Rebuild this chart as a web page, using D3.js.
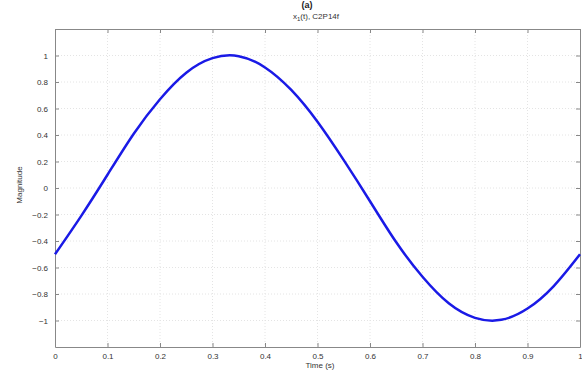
<!DOCTYPE html>
<html>
<head>
<meta charset="utf-8">
<script src="https://cdn.jsdelivr.net/npm/d3@7"></script>
<style>
  body { margin: 0; background: #fff; }
  text { font-family: "Liberation Sans", Arial, sans-serif; }
</style>
</head>
<body>
<svg width="582" height="370"></svg>
<script>
// Values
const times = [0, 0.05, 0.1, 0.15, 0.2, 0.25, 0.3, 0.35, 0.4, 0.45, 0.5,
               0.55, 0.6, 0.65, 0.7, 0.75, 0.8, 0.85, 0.9, 0.95, 1];
const magnitude = [-0.5, -0.21, 0.1, 0.41, 0.67, 0.87, 0.98, 0.995, 0.91, 0.74, 0.5,
                   0.21, -0.1, -0.41, -0.67, -0.87, -0.98, -0.995, -0.91, -0.74, -0.5];
const xTicks = [0, 0.1, 0.2, 0.3, 0.4, 0.5, 0.6, 0.7, 0.8, 0.9, 1];
const yTicks = [-1, -0.8, -0.6, -0.4, -0.2, 0, 0.2, 0.4, 0.6, 0.8, 1];

const svg = d3.select("svg");
const mLeft = 55, mRight = 580, mTop = 29, mBottom = 347;

const x = d3.scaleLinear().domain([0, 1]).range([mLeft, mRight]);
const y = d3.scaleLinear().domain([-1.2, 1.2]).range([mBottom, mTop]);

const fmt = d => String(d).replace("-", "\u2212");

// grid
svg.append("g").selectAll("line").data(xTicks.slice(1, -1)).enter().append("line")
  .attr("x1", d => x(d)).attr("x2", d => x(d)).attr("y1", mTop).attr("y2", mBottom)
  .attr("stroke", "#e4e4e4").attr("stroke-dasharray", "1,2");
svg.append("g").selectAll("line").data(yTicks).enter().append("line")
  .attr("y1", d => y(d)).attr("y2", d => y(d)).attr("x1", mLeft).attr("x2", mRight)
  .attr("stroke", "#e4e4e4").attr("stroke-dasharray", "1,2");

// axes with inward ticks
const ax = svg.append("g").attr("transform", `translate(0,${mBottom})`)
  .call(d3.axisBottom(x).tickValues(xTicks).tickSizeInner(-4).tickSizeOuter(0).tickPadding(6).tickFormat(fmt));
const axTop = svg.append("g").attr("transform", `translate(0,${mTop})`)
  .call(d3.axisTop(x).tickValues(xTicks).tickSizeInner(-4).tickSizeOuter(0).tickFormat(""));
const ay = svg.append("g").attr("transform", `translate(${mLeft},0)`)
  .call(d3.axisLeft(y).tickValues(yTicks).tickSizeInner(-4).tickSizeOuter(0).tickPadding(7).tickFormat(fmt));
const ayR = svg.append("g").attr("transform", `translate(${mRight},0)`)
  .call(d3.axisRight(y).tickValues(yTicks).tickSizeInner(-4).tickSizeOuter(0).tickFormat(""));

[ax, axTop, ay, ayR].forEach(g => {
  g.select(".domain").attr("stroke", "#888");
  g.selectAll(".tick line").attr("stroke", "#888");
  g.selectAll("text").attr("font-size", 8).attr("fill", "#333")
    .attr("font-family", "Liberation Sans, Arial, sans-serif");
});

// curve
const line = d3.line()
  .x((d, i) => x(times[i]))
  .y(d => y(d))
  .curve(d3.curveNatural);
svg.append("path").datum(magnitude)
  .attr("d", line).attr("fill", "none")
  .attr("stroke", "#1a1ae6").attr("stroke-width", 2.5);

// labels
svg.append("text").attr("x", 307).attr("y", 8).attr("text-anchor", "middle")
  .attr("font-size", 9).attr("font-weight", "bold").attr("fill", "#222").text("(a)");
const st = svg.append("text").attr("x", 316).attr("y", 19).attr("text-anchor", "middle")
  .attr("font-size", 8).attr("fill", "#333");
st.append("tspan").text("x");
st.append("tspan").attr("font-size", 6).attr("dy", 2).text("1");
st.append("tspan").attr("dy", -2).text("(t),  C2P14f");

svg.append("text").attr("x", 320).attr("y", 368).attr("text-anchor", "middle")
  .attr("font-size", 8).attr("fill", "#333").text("Time (s)");
svg.append("text").attr("transform", "translate(22,185) rotate(-90)")
  .attr("text-anchor", "middle").attr("font-size", 8).attr("fill", "#333").text("Magnitude");
</script>
</body>
</html>
